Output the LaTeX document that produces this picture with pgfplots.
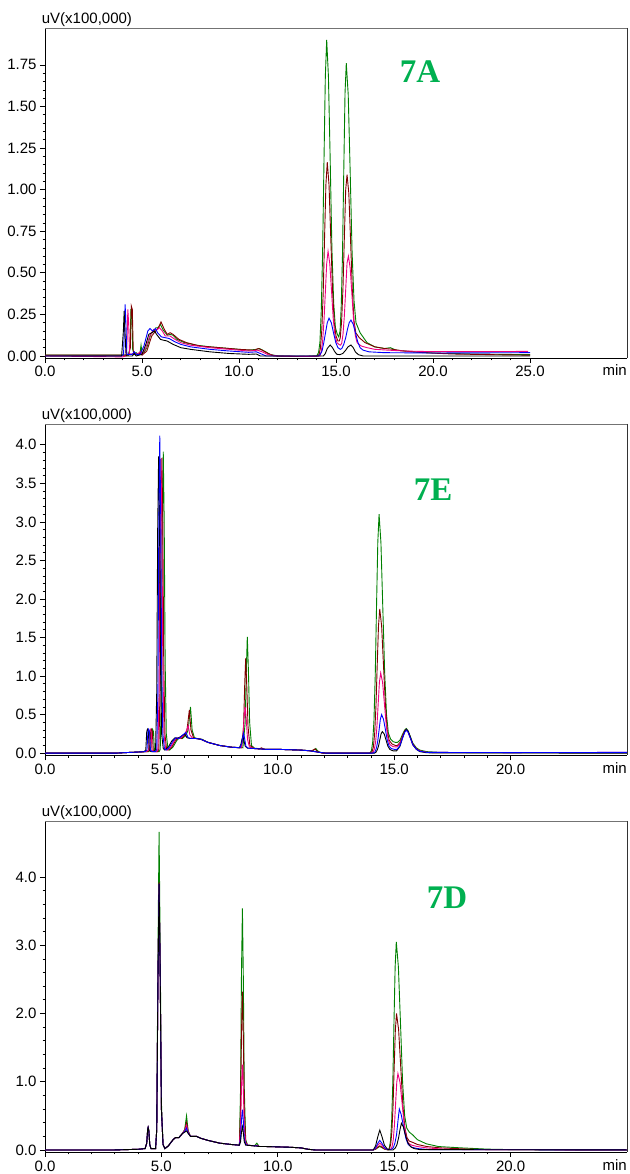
\documentclass[border=0pt]{standalone}
\usepackage{fontspec}
\setmainfont{Liberation Sans}
\newfontfamily\tnr{Liberation Serif}
\usepackage{pgfplots}
\pgfplotsset{compat=1.18}
\definecolor{cg}{RGB}{0,128,0}
\definecolor{cr}{RGB}{128,0,0}
\definecolor{cp}{RGB}{240,0,128}
\definecolor{cb}{RGB}{0,0,255}
\definecolor{lab}{RGB}{0,176,80}
\pgfplotsset{chrom/.style={
 scale only axis, width=582pt, anchor=south west,
 axis x line*=bottom, axis y line*=left,
 axis line style={-, black, line width=0.8pt},
 tick align=outside, major tick length=5pt, minor tick length=2.5pt,
 every tick/.style={black, line width=0.7pt},
 minor x tick num=4, minor y tick num=4,
 tick label style={font=\fontsize{15}{15}\selectfont},
 /pgf/number format/assume math mode=true,
 x tick label style={/pgf/number format/.cd, fixed, fixed zerofill, precision=1, /tikz/.cd},
 every axis plot/.append style={line width=0.9pt, mark=none},
 clip=false,
}}
\newcommand{\frameandlabels}{%
 \draw[black!55, line width=0.8pt] (rel axis cs:0,1) -- (rel axis cs:1,1);
 \draw[black!80, line width=0.8pt] (rel axis cs:1,1) -- (rel axis cs:1,0);
 \node[anchor=south west, inner sep=0pt, font=\fontsize{15}{15}\selectfont, xshift=-3.3pt, yshift=1pt] at (rel axis cs:0,1) {uV(x100,000)};
 \node[anchor=base east, inner sep=0pt, font=\fontsize{15}{15}\selectfont, yshift=-18pt] at (rel axis cs:1,0) {min};
}
\begin{document}
\begin{tikzpicture}
\useasboundingbox (0pt,0pt) rectangle (629pt,1174pt);
% ---------------- 7A ----------------
\begin{axis}[chrom, at={(45pt,816pt)}, height=330pt,
 xmin=0, xmax=30, ymin=-0.012, ymax=1.972,
 xtick={0,5,10,15,20,25},
 ytick={0,0.25,0.5,0.75,1,1.25,1.5,1.75},
 y tick label style={/pgf/number format/.cd, fixed, fixed zerofill, precision=2, /tikz/.cd}]
\addplot[cg] coordinates {(0,0.005)(3.9,0.005)(4.3,0.005)(4.38,0.05)(4.43,0.28)(4.47,0.28)(4.52,0.04)(4.6,0.01)(4.7,0.02)(4.8,0.01)(4.9,0.02)(4.95,0.065)(5.0,0.02)(5.1,0.02)(5.25,0.05)(5.45,0.13)(5.6,0.15)(5.72,0.17)(5.82,0.17)(5.95,0.19)(6.1,0.155)(6.3,0.125)(6.45,0.13)(6.6,0.125)(6.8,0.10)(7.2,0.08)(7.8,0.065)(8.5,0.055)(9.5,0.045)(10.5,0.035)(10.9,0.04)(11.05,0.045)(11.3,0.03)(11.6,0.01)(12.0,0.0)(13.5,-0.003)(14.0,0.0)(14.10,0.02)(14.17,0.08)(14.24,0.27)(14.31,0.62)(14.38,1.17)(14.45,1.68)(14.52,1.90)(14.61,1.68)(14.70,1.18)(14.79,0.64)(14.88,0.32)(14.97,0.17)(15.07,0.13)(15.14,0.115)(15.21,0.15)(15.27,0.30)(15.335,0.61)(15.40,1.11)(15.465,1.58)(15.53,1.76)(15.63,1.57)(15.73,1.11)(15.83,0.62)(15.93,0.33)(16.03,0.20)(16.24,0.14)(16.6,0.08)(17.0,0.055)(17.5,0.045)(17.8,0.05)(18.1,0.035)(19.0,0.025)(20,0.018)(22,0.012)(25,0.008)};
\addplot[cr] coordinates {(0,0.005)(4.3,0.005)(4.4,0.05)(4.45,0.30)(4.5,0.28)(4.55,0.03)(4.7,0.01)(4.85,0.01)(4.92,0.025)(5.0,0.005)(5.25,0.03)(5.5,0.12)(5.7,0.15)(5.85,0.17)(5.98,0.205)(6.15,0.16)(6.3,0.13)(6.45,0.14)(6.6,0.13)(6.9,0.10)(7.3,0.08)(8.0,0.06)(9.0,0.05)(10.0,0.04)(10.8,0.035)(11.0,0.045)(11.2,0.035)(11.5,0.015)(11.8,0.0)(13,-0.003)(14.05,0.0)(14.13,0.01)(14.20,0.05)(14.27,0.16)(14.34,0.38)(14.41,0.71)(14.48,1.03)(14.55,1.165)(14.64,1.03)(14.73,0.71)(14.82,0.40)(14.91,0.20)(15.00,0.12)(15.10,0.09)(15.17,0.09)(15.22,0.11)(15.29,0.21)(15.36,0.41)(15.43,0.71)(15.50,1.0)(15.57,1.09)(15.66,0.98)(15.75,0.70)(15.84,0.40)(15.93,0.21)(16.02,0.14)(16.2,0.11)(16.5,0.08)(17.0,0.055)(17.5,0.045)(17.8,0.042)(18.5,0.03)(19.5,0.02)(21,0.012)(23,0.008)(25,0.005)};
\addplot[cp] coordinates {(0,0.0)(3.7,-0.005)(4.0,-0.005)(4.18,0.0)(4.23,0.1)(4.27,0.28)(4.31,0.2)(4.36,0.01)(4.6,0.015)(4.75,0.01)(4.9,0.025)(5.0,0.01)(5.2,0.05)(5.4,0.12)(5.6,0.16)(5.75,0.155)(5.9,0.17)(6.05,0.15)(6.2,0.12)(6.45,0.12)(6.7,0.10)(7.0,0.08)(7.5,0.065)(8.5,0.05)(9.5,0.04)(10.5,0.03)(10.95,0.035)(11.2,0.025)(11.5,0.008)(12,0.0)(13.8,-0.003)(14.17,0.0)(14.24,0.025)(14.31,0.09)(14.38,0.21)(14.45,0.38)(14.52,0.555)(14.59,0.63)(14.68,0.555)(14.77,0.39)(14.86,0.22)(14.95,0.12)(15.05,0.08)(15.15,0.07)(15.22,0.065)(15.29,0.074)(15.36,0.13)(15.43,0.24)(15.50,0.40)(15.57,0.56)(15.64,0.60)(15.73,0.53)(15.82,0.37)(15.91,0.21)(16.0,0.12)(16.09,0.08)(16.3,0.06)(16.6,0.05)(17,0.04)(17.7,0.035)(18.5,0.03)(20,0.026)(22,0.026)(24,0.027)(24.9,0.028)};
\addplot[cb] coordinates {(0,0.0)(3.95,0.0)(4.05,0.01)(4.10,0.2)(4.13,0.31)(4.17,0.2)(4.22,0.01)(4.5,0.01)(4.6,0.025)(4.7,0.01)(4.9,0.01)(5.1,0.06)(5.3,0.15)(5.41,0.165)(5.55,0.15)(5.7,0.165)(5.8,0.14)(6.0,0.115)(6.2,0.11)(6.4,0.105)(6.7,0.085)(7.0,0.07)(7.5,0.055)(8.5,0.04)(9.5,0.03)(10.5,0.022)(10.9,0.025)(11.1,0.015)(11.4,0.0)(14.1,0.0)(14.19,0.01)(14.28,0.03)(14.37,0.08)(14.46,0.14)(14.55,0.20)(14.64,0.227)(14.76,0.20)(14.87,0.14)(14.99,0.08)(15.10,0.05)(15.22,0.04)(15.3,0.045)(15.40,0.07)(15.50,0.11)(15.59,0.16)(15.68,0.20)(15.77,0.216)(15.89,0.19)(16.0,0.14)(16.12,0.085)(16.24,0.05)(16.4,0.035)(16.7,0.025)(17.5,0.02)(20,0.018)(25,0.02)};
\addplot[black] coordinates {(0,0.0)(3.95,0.0)(4.04,0.15)(4.08,0.27)(4.12,0.15)(4.18,0.0)(4.5,0.0)(4.6,0.015)(4.7,0.0)(5.0,0.01)(5.2,0.07)(5.35,0.13)(5.5,0.14)(5.65,0.15)(5.75,0.13)(5.95,0.10)(6.1,0.095)(6.3,0.09)(6.6,0.07)(7.0,0.05)(7.5,0.04)(8.5,0.025)(9.5,0.015)(10.5,0.01)(10.9,0.012)(11.1,0.0)(14.35,0.0)(14.45,0.015)(14.55,0.045)(14.7,0.066)(14.82,0.05)(14.94,0.025)(15.05,0.01)(15.2,0.008)(15.35,0.015)(15.50,0.035)(15.62,0.055)(15.77,0.066)(15.89,0.05)(16.0,0.025)(16.15,0.008)(16.4,0.0)(25,0.0)};
\frameandlabels
\end{axis}
% ---------------- 7E ----------------
\begin{axis}[chrom, at={(45pt,418.5pt)}, height=331.5pt,
 xmin=0, xmax=25, ymin=-0.03, ymax=4.27,
 xtick={0,5,10,15,20},
 ytick={0,0.5,1,1.5,2,2.5,3,3.5,4},
 y tick label style={/pgf/number format/.cd, fixed, fixed zerofill, precision=1, /tikz/.cd}]
\addplot[cg] coordinates {(0,0)(3.0,0)(3.5,0.008)(4.0,0.015)(4.45,0.02)(4.55,0.04)(4.59,0.28)(4.62,0.31)(4.66,0.28)(4.70,0.04)(4.77,0.02)(4.9,0.02)(4.95,0.05)(5.0,0.8)(5.04,2.9)(5.08,3.91)(5.12,3.0)(5.16,1.2)(5.21,0.25)(5.28,0.06)(5.35,0.04)(5.5,0.08)(5.65,0.16)(5.77,0.2)(5.9,0.19)(6.05,0.23)(6.15,0.3)(6.25,0.60)(6.32,0.3)(6.42,0.2)(6.55,0.19)(6.75,0.18)(7.0,0.14)(7.5,0.1)(8.0,0.078)(8.5,0.07)(8.6,0.4)(8.65,1.1)(8.69,1.51)(8.74,1.05)(8.79,0.4)(8.87,0.1)(9.0,0.065)(9.5,0.05)(10,0.05)(10.5,0.045)(11,0.04)(11.5,0.03)(11.63,0.06)(11.75,0.02)(11.95,0.0)(13.95,0.0)(14.02,0.03)(14.075,0.14)(14.13,0.42)(14.185,1.0)(14.24,1.89)(14.295,2.73)(14.35,3.10)(14.43,2.73)(14.51,1.89)(14.59,1.05)(14.67,0.5)(14.75,0.26)(14.85,0.18)(14.95,0.15)(15.05,0.14)(15.14,0.14)(15.25,0.17)(15.35,0.24)(15.45,0.30)(15.52,0.32)(15.6,0.29)(15.7,0.21)(15.8,0.13)(15.95,0.07)(16.1,0.04)(16.4,0.02)(17,0.01)(20,0.005)(25,0.005)};
\addplot[cr] coordinates {(0,0)(3.0,0)(3.5,0.008)(4.0,0.015)(4.4,0.02)(4.5,0.04)(4.54,0.28)(4.57,0.31)(4.61,0.28)(4.65,0.04)(4.72,0.02)(4.84,0.02)(4.89,0.05)(4.94,0.8)(4.98,2.9)(5.02,3.83)(5.06,3.0)(5.10,1.2)(5.15,0.25)(5.22,0.06)(5.29,0.04)(5.45,0.08)(5.6,0.16)(5.72,0.2)(5.85,0.19)(6.0,0.23)(6.1,0.3)(6.2,0.56)(6.27,0.3)(6.38,0.2)(6.5,0.19)(6.7,0.18)(7.0,0.14)(7.5,0.1)(8.0,0.078)(8.45,0.07)(8.53,0.35)(8.58,0.9)(8.62,1.23)(8.67,0.85)(8.72,0.35)(8.8,0.1)(9.0,0.06)(9.2,0.055)(9.3,0.07)(9.4,0.05)(10,0.05)(10.5,0.045)(11,0.04)(11.45,0.03)(11.6,0.055)(11.7,0.02)(11.9,0.0)(13.95,0.0)(14.05,0.02)(14.105,0.08)(14.16,0.25)(14.215,0.6)(14.27,1.14)(14.325,1.65)(14.38,1.87)(14.46,1.65)(14.54,1.14)(14.62,0.64)(14.70,0.3)(14.78,0.17)(14.9,0.12)(15.05,0.1)(15.14,0.1)(15.25,0.14)(15.35,0.22)(15.45,0.29)(15.52,0.31)(15.6,0.28)(15.7,0.2)(15.8,0.12)(15.95,0.06)(16.1,0.03)(16.4,0.01)(17,0.005)(25,0.005)};
\addplot[cp] coordinates {(0,0)(3.0,0)(3.5,0.008)(4.0,0.015)(4.35,0.02)(4.45,0.04)(4.49,0.28)(4.52,0.31)(4.56,0.28)(4.60,0.04)(4.67,0.02)(4.80,0.02)(4.85,0.05)(4.90,0.8)(4.94,2.9)(4.98,3.82)(5.02,3.0)(5.06,1.2)(5.11,0.25)(5.18,0.06)(5.25,0.04)(5.4,0.08)(5.55,0.16)(5.68,0.2)(5.8,0.19)(5.95,0.23)(6.05,0.27)(6.15,0.36)(6.22,0.24)(6.35,0.19)(6.5,0.19)(6.7,0.18)(7.0,0.14)(7.5,0.1)(8.0,0.078)(8.42,0.07)(8.5,0.2)(8.55,0.45)(8.60,0.60)(8.65,0.42)(8.7,0.18)(8.78,0.08)(9.0,0.06)(9.5,0.05)(10,0.05)(10.5,0.045)(11,0.04)(11.4,0.03)(11.8,0.01)(12.1,0.0)(14.0,0.0)(14.09,0.01)(14.145,0.05)(14.2,0.14)(14.255,0.33)(14.31,0.63)(14.365,0.92)(14.42,1.04)(14.5,0.92)(14.58,0.64)(14.66,0.36)(14.74,0.18)(14.82,0.11)(14.95,0.085)(15.1,0.08)(15.25,0.12)(15.35,0.21)(15.45,0.28)(15.52,0.30)(15.6,0.27)(15.7,0.19)(15.8,0.11)(15.95,0.055)(16.1,0.03)(16.4,0.01)(20,0.008)(25,0.01)};
\addplot[black] coordinates {(0,0)(3.0,0)(3.5,0.008)(4.0,0.015)(4.25,0.02)(4.33,0.04)(4.37,0.28)(4.40,0.31)(4.44,0.28)(4.48,0.04)(4.55,0.02)(4.70,0.02)(4.75,0.05)(4.80,0.8)(4.84,2.9)(4.88,3.85)(4.92,3.0)(4.96,1.2)(5.01,0.25)(5.08,0.06)(5.15,0.04)(5.3,0.08)(5.45,0.16)(5.58,0.2)(5.7,0.19)(5.85,0.22)(6.0,0.25)(6.1,0.2)(6.25,0.19)(6.5,0.19)(6.7,0.18)(7.0,0.14)(7.5,0.1)(8.0,0.078)(8.35,0.07)(8.42,0.12)(8.46,0.18)(8.50,0.22)(8.55,0.16)(8.6,0.09)(8.7,0.065)(9.0,0.06)(9.5,0.05)(10,0.05)(10.5,0.045)(11,0.04)(11.4,0.03)(11.8,0.01)(12.1,0.0)(14.15,0.0)(14.21,0.01)(14.27,0.04)(14.325,0.09)(14.38,0.17)(14.435,0.25)(14.49,0.28)(14.57,0.25)(14.65,0.17)(14.73,0.09)(14.81,0.05)(14.95,0.03)(15.1,0.03)(15.25,0.09)(15.35,0.19)(15.45,0.28)(15.52,0.31)(15.6,0.28)(15.7,0.2)(15.8,0.11)(15.95,0.05)(16.1,0.02)(16.4,0.005)(25,0.0)};
\addplot[cb] coordinates {(0,0)(3.0,0)(3.5,0.008)(4.0,0.015)(4.3,0.02)(4.38,0.04)(4.42,0.28)(4.45,0.31)(4.49,0.28)(4.53,0.04)(4.6,0.02)(4.75,0.02)(4.80,0.05)(4.85,0.8)(4.89,3.0)(4.93,4.12)(4.97,3.1)(5.01,1.2)(5.06,0.25)(5.13,0.06)(5.2,0.04)(5.35,0.08)(5.5,0.16)(5.63,0.2)(5.75,0.19)(5.9,0.23)(6.05,0.27)(6.15,0.2)(6.3,0.19)(6.5,0.19)(6.7,0.18)(7.0,0.14)(7.5,0.1)(8.0,0.078)(8.38,0.07)(8.45,0.13)(8.49,0.2)(8.53,0.26)(8.58,0.18)(8.63,0.09)(8.73,0.065)(9.0,0.06)(9.5,0.05)(10,0.05)(10.5,0.045)(11,0.04)(11.4,0.03)(11.8,0.01)(12.1,0.0)(14.05,0.0)(14.12,0.005)(14.18,0.02)(14.24,0.07)(14.295,0.16)(14.35,0.30)(14.405,0.44)(14.46,0.50)(14.54,0.44)(14.62,0.31)(14.7,0.17)(14.78,0.09)(14.88,0.06)(15.0,0.05)(15.12,0.05)(15.25,0.1)(15.35,0.19)(15.45,0.27)(15.52,0.30)(15.6,0.27)(15.7,0.19)(15.8,0.11)(15.95,0.05)(16.1,0.025)(16.4,0.01)(20,0.008)(25,0.01)};
\frameandlabels
\end{axis}
% ---------------- 7D ----------------
\begin{axis}[chrom, at={(45pt,22pt)}, height=331pt,
 xmin=0, xmax=25, ymin=-0.03, ymax=4.82,
 xtick={0,5,10,15,20},
 ytick={0,1,2,3,4},
 y tick label style={/pgf/number format/.cd, fixed, fixed zerofill, precision=1, /tikz/.cd}]
\addplot[cg] coordinates {(0,0)(3.0,0)(3.5,0.005)(4.0,0.01)(4.3,0.02)(4.37,0.1)(4.41,0.3)(4.43,0.33)(4.46,0.28)(4.5,0.08)(4.55,0.02)(4.75,0.02)(4.8,0.3)(4.85,2.8)(4.9,4.66)(4.95,2.9)(5.0,0.7)(5.07,0.08)(5.15,0.02)(5.3,0.06)(5.5,0.15)(5.6,0.18)(5.75,0.18)(5.9,0.24)(6.0,0.3)(6.08,0.50)(6.15,0.28)(6.25,0.2)(6.5,0.2)(6.7,0.17)(7.0,0.14)(7.5,0.1)(8.0,0.08)(8.35,0.07)(8.40,0.9)(8.44,2.6)(8.48,3.54)(8.52,2.5)(8.56,0.9)(8.62,0.15)(8.7,0.07)(9.0,0.06)(9.1,0.10)(9.2,0.05)(9.5,0.05)(10,0.045)(10.5,0.04)(11,0.03)(11.3,0.01)(11.6,0.0)(14.1,0.0)(14.2,0.01)(14.3,0.035)(14.38,0.05)(14.47,0.035)(14.58,0.012)(14.75,0.0)(14.79,0.03)(14.84,0.13)(14.89,0.41)(14.94,0.98)(14.99,1.86)(15.04,2.68)(15.09,3.05)(15.18,2.68)(15.27,1.86)(15.36,1.0)(15.45,0.5)(15.54,0.32)(15.65,0.26)(15.8,0.22)(16.0,0.15)(16.38,0.09)(16.9,0.05)(17.9,0.03)(19,0.012)(20,0.005)(25,0.0)};
\addplot[cr] coordinates {(0,0)(3.0,0)(3.5,0.005)(4.0,0.01)(4.3,0.02)(4.37,0.1)(4.41,0.3)(4.43,0.33)(4.46,0.28)(4.5,0.08)(4.55,0.02)(4.75,0.02)(4.8,0.3)(4.85,2.4)(4.9,3.92)(4.95,2.5)(5.0,0.6)(5.07,0.08)(5.15,0.02)(5.3,0.06)(5.5,0.15)(5.6,0.18)(5.75,0.18)(5.9,0.24)(6.0,0.29)(6.08,0.40)(6.15,0.27)(6.25,0.2)(6.5,0.2)(6.7,0.17)(7.0,0.14)(7.5,0.1)(8.0,0.08)(8.35,0.07)(8.40,0.6)(8.44,1.7)(8.48,2.32)(8.52,1.65)(8.56,0.6)(8.62,0.12)(8.7,0.07)(9.0,0.06)(9.1,0.07)(9.2,0.05)(9.5,0.05)(10,0.045)(10.5,0.04)(11,0.03)(11.3,0.01)(11.6,0.0)(14.1,0.0)(14.2,0.012)(14.3,0.042)(14.38,0.06)(14.47,0.042)(14.58,0.015)(14.75,0.0)(14.80,0.02)(14.85,0.085)(14.9,0.27)(14.95,0.64)(15.0,1.22)(15.05,1.76)(15.10,2.0)(15.19,1.76)(15.28,1.22)(15.37,0.66)(15.46,0.32)(15.55,0.18)(15.65,0.13)(15.8,0.11)(16.0,0.08)(16.4,0.05)(17,0.03)(18,0.015)(19,0.005)(25,0.0)};
\addplot[cp] coordinates {(0,0)(3.0,0)(3.5,0.005)(4.0,0.01)(4.3,0.02)(4.37,0.1)(4.41,0.3)(4.43,0.33)(4.46,0.28)(4.5,0.08)(4.55,0.02)(4.75,0.02)(4.8,0.3)(4.85,2.4)(4.9,3.9)(4.95,2.5)(5.0,0.6)(5.07,0.08)(5.15,0.02)(5.3,0.06)(5.5,0.15)(5.6,0.18)(5.75,0.18)(5.9,0.24)(6.0,0.28)(6.08,0.36)(6.15,0.26)(6.25,0.2)(6.5,0.2)(6.7,0.17)(7.0,0.14)(7.5,0.1)(8.0,0.08)(8.35,0.07)(8.40,0.33)(8.44,0.92)(8.48,1.25)(8.52,0.88)(8.56,0.33)(8.62,0.1)(8.7,0.07)(9.0,0.06)(9.1,0.065)(9.2,0.05)(9.5,0.05)(10,0.045)(10.5,0.04)(11,0.03)(11.3,0.01)(11.6,0.0)(14.1,0.0)(14.2,0.02)(14.3,0.07)(14.38,0.1)(14.47,0.07)(14.58,0.025)(14.7,0.005)(14.86,0.01)(14.91,0.05)(14.96,0.15)(15.01,0.36)(15.06,0.68)(15.11,0.99)(15.16,1.12)(15.25,0.99)(15.34,0.68)(15.43,0.37)(15.52,0.18)(15.61,0.1)(15.75,0.07)(16,0.05)(16.4,0.03)(17,0.015)(18,0.005)(25,0.0)};
\addplot[cb] coordinates {(0,0)(3.0,0)(3.5,0.005)(4.0,0.01)(4.3,0.02)(4.37,0.1)(4.41,0.3)(4.43,0.33)(4.46,0.28)(4.5,0.08)(4.55,0.02)(4.75,0.02)(4.8,0.3)(4.85,2.4)(4.9,3.9)(4.95,2.5)(5.0,0.6)(5.07,0.08)(5.15,0.02)(5.3,0.06)(5.5,0.15)(5.6,0.18)(5.75,0.18)(5.9,0.24)(6.0,0.27)(6.08,0.32)(6.15,0.25)(6.25,0.2)(6.5,0.2)(6.7,0.17)(7.0,0.14)(7.5,0.1)(8.0,0.08)(8.35,0.07)(8.40,0.17)(8.44,0.44)(8.48,0.59)(8.52,0.42)(8.56,0.17)(8.62,0.08)(8.7,0.07)(9.0,0.06)(9.1,0.06)(9.2,0.05)(9.5,0.05)(10,0.045)(10.5,0.04)(11,0.03)(11.3,0.01)(11.6,0.0)(14.1,0.0)(14.2,0.03)(14.3,0.1)(14.38,0.14)(14.47,0.1)(14.58,0.035)(14.7,0.007)(14.9,0.01)(14.97,0.04)(15.03,0.1)(15.1,0.22)(15.16,0.42)(15.22,0.60)(15.3,0.52)(15.4,0.34)(15.5,0.17)(15.6,0.08)(15.75,0.04)(16.0,0.02)(16.5,0.005)(25,0.0)};
\addplot[black] coordinates {(0,0)(3.0,0)(3.5,0.005)(4.0,0.01)(4.3,0.02)(4.37,0.1)(4.41,0.3)(4.43,0.33)(4.46,0.28)(4.5,0.08)(4.55,0.02)(4.75,0.02)(4.8,0.3)(4.85,2.4)(4.9,3.9)(4.95,2.5)(5.0,0.6)(5.07,0.08)(5.15,0.02)(5.3,0.06)(5.5,0.15)(5.6,0.18)(5.75,0.18)(5.9,0.24)(6.0,0.26)(6.08,0.28)(6.15,0.24)(6.25,0.2)(6.5,0.2)(6.7,0.17)(7.0,0.14)(7.5,0.1)(8.0,0.08)(8.35,0.07)(8.40,0.12)(8.44,0.26)(8.48,0.34)(8.52,0.25)(8.56,0.12)(8.62,0.07)(9.0,0.06)(9.2,0.05)(9.5,0.05)(10,0.045)(10.5,0.04)(11,0.03)(11.3,0.01)(11.6,0.0)(14.1,0.0)(14.2,0.06)(14.3,0.2)(14.38,0.29)(14.47,0.2)(14.58,0.07)(14.7,0.015)(14.8,0.0)(14.95,0.0)(15.05,0.03)(15.12,0.08)(15.19,0.18)(15.25,0.3)(15.31,0.39)(15.39,0.34)(15.48,0.22)(15.58,0.11)(15.7,0.05)(15.85,0.02)(16.1,0.005)(25,0.0)};
\frameandlabels
\end{axis}
% panel labels
\node[anchor=center, inner sep=0pt, text=lab, font=\tnr\bfseries\fontsize{33}{33}\selectfont] at (420pt,1102pt) {7A};
\node[anchor=center, inner sep=0pt, text=lab, font=\tnr\bfseries\fontsize{33}{33}\selectfont] at (433pt,684pt) {7E};
\node[anchor=center, inner sep=0pt, text=lab, font=\tnr\bfseries\fontsize{33}{33}\selectfont] at (447pt,276.5pt) {7D};
\end{tikzpicture}
\end{document}
